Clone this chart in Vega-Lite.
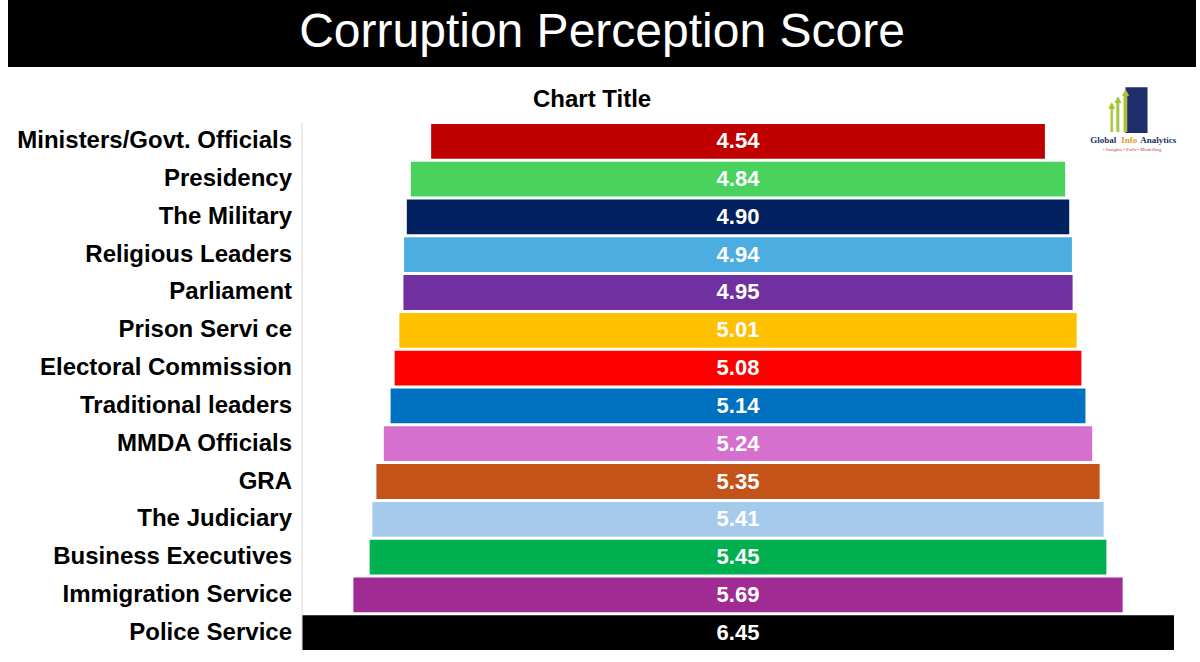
{
  "$schema": "https://vega.github.io/schema/vega-lite/v6.json",
  "background": "white",
  "padding": {"left": 8, "top": 0, "right": 0, "bottom": 0},
  "spacing": 11,
  "datasets": {
    "scores": [
      {"body": "Ministers/Govt. Officials", "score": 4.54},
      {"body": "Presidency ", "score": 4.84},
      {"body": "The Military", "score": 4.90},
      {"body": "Religious Leaders", "score": 4.94},
      {"body": "Parliament", "score": 4.95},
      {"body": "Prison Servi ce", "score": 5.01},
      {"body": "Electoral Commission ", "score": 5.08},
      {"body": "Traditional leaders", "score": 5.14},
      {"body": "MMDA Officials", "score": 5.24},
      {"body": "GRA", "score": 5.35},
      {"body": "The Judiciary", "score": 5.41},
      {"body": "Business Executives", "score": 5.45},
      {"body": "Immigration Service", "score": 5.69},
      {"body": "Police Service", "score": 6.45}
    ],
    "logo": [
      {"word": "Global", "part": "name1"},
      {"word": "Info", "part": "name2"},
      {"word": "Analytics", "part": "name3"}
    ]
  },
  "vconcat": [
    {
      "width": 1188,
      "height": 67,
      "view": {"fill": "black", "stroke": null},
      "data": {"values": [{"heading": "Corruption Perception Score"}]},
      "mark": {
        "type": "text",
        "color": "white",
        "font": "Liberation Sans",
        "fontSize": 48,
        "baseline": "middle",
        "dy": -1
      },
      "encoding": {"text": {"field": "heading"}}
    },
    {
      "width": 1166,
      "height": 530,
      "title": {
        "text": "Chart Title",
        "font": "Liberation Sans",
        "fontSize": 24,
        "fontWeight": "bold",
        "color": "black",
        "anchor": "middle",
        "frame": "bounds",
        "offset": -34
      },
      "view": {"stroke": null},
      "encoding": {
        "y": {
          "field": "body",
          "type": "nominal",
          "sort": null,
          "axis": null,
          "scale": {"paddingInner": 0.08, "paddingOuter": 0.05}
        }
      },
      "layer": [
        {
          "data": {"name": "scores"},
          "mark": {"type": "bar"},
          "encoding": {
            "x": {
              "field": "score",
              "type": "quantitative",
              "stack": "center",
              "axis": null,
              "scale": {"domain": [-2.175, 6.45], "nice": false, "zero": false}
            },
            "color": {
              "field": "body",
              "type": "nominal",
              "legend": null,
              "scale": {
                "domain": [
                  "Ministers/Govt. Officials", "Presidency ", "The Military",
                  "Religious Leaders", "Parliament", "Prison Servi ce",
                  "Electoral Commission ", "Traditional leaders", "MMDA Officials",
                  "GRA", "The Judiciary", "Business Executives",
                  "Immigration Service", "Police Service"
                ],
                "range": [
                  "#C00000", "#4AD25E", "#002060", "#4CADE0", "#7030A0",
                  "#FFC000", "#FF0000", "#0070C0", "#D670CE", "#C4531A",
                  "#A6CAEC", "#00B050", "#A02B93", "#000000"
                ]
              }
            }
          }
        },
        {
          "data": {"values": [{"edge": 0}]},
          "mark": {"type": "rule", "color": "#d9d9d9", "strokeWidth": 1},
          "encoding": {"x": {"field": "edge", "type": "quantitative"}, "y": null}
        },
        {
          "data": {"name": "scores"},
          "mark": {
            "type": "text",
            "color": "black",
            "font": "Liberation Sans",
            "fontSize": 24,
            "fontWeight": "bold",
            "align": "right",
            "baseline": "middle"
          },
          "encoding": {
            "x": {"datum": -0.074},
            "text": {"field": "body"}
          }
        },
        {
          "data": {"name": "scores"},
          "mark": {
            "type": "text",
            "color": "white",
            "font": "Liberation Sans",
            "fontSize": 22,
            "fontWeight": "bold",
            "baseline": "middle"
          },
          "encoding": {
            "x": {"datum": 3.225},
            "text": {"field": "score", "type": "quantitative", "format": ".2f"}
          }
        },
        {
          "data": {"values": [{"icon": "▮"}]},
          "mark": {
            "type": "text",
            "color": "#1F2F6B",
            "font": "DejaVu Sans",
            "fontSize": 60,
            "align": "center",
            "baseline": "middle",
            "dy": -33
          },
          "encoding": {
            "x": {"datum": 6.17},
            "y": {"datum": "Ministers/Govt. Officials"},
            "text": {"field": "icon"}
          }
        },
        {
          "data": {"values": [{"icon": "|"}]},
          "mark": {
            "type": "text",
            "color": "#A3C53A",
            "font": "Liberation Sans",
            "fontSize": 29,
            "align": "center",
            "baseline": "alphabetic",
            "dy": -15
          },
          "encoding": {
            "x": {"datum": 5.99},
            "y": {"datum": "Ministers/Govt. Officials"},
            "text": {"field": "icon"}
          }
        },
        {
          "data": {"values": [{"icon": "|"}]},
          "mark": {
            "type": "text",
            "color": "#A3C53A",
            "font": "Liberation Sans",
            "fontSize": 35,
            "align": "center",
            "baseline": "alphabetic",
            "dy": -16
          },
          "encoding": {
            "x": {"datum": 6.035},
            "y": {"datum": "Ministers/Govt. Officials"},
            "text": {"field": "icon"}
          }
        },
        {
          "data": {"values": [{"icon": "|"}]},
          "mark": {
            "type": "text",
            "color": "#A3C53A",
            "font": "Liberation Sans",
            "fontSize": 43,
            "align": "center",
            "baseline": "alphabetic",
            "dy": -18
          },
          "encoding": {
            "x": {"datum": 6.09},
            "y": {"datum": "Ministers/Govt. Officials"},
            "text": {"field": "icon"}
          }
        },
        {
          "data": {"values": [{"icon": "▲"}]},
          "mark": {
            "type": "text",
            "color": "#A3C53A",
            "font": "DejaVu Sans",
            "fontSize": 9,
            "align": "center",
            "baseline": "middle",
            "dy": -36
          },
          "encoding": {
            "x": {"datum": 5.99},
            "y": {"datum": "Ministers/Govt. Officials"},
            "text": {"field": "icon"}
          }
        },
        {
          "data": {"values": [{"icon": "▲"}]},
          "mark": {
            "type": "text",
            "color": "#A3C53A",
            "font": "DejaVu Sans",
            "fontSize": 9,
            "align": "center",
            "baseline": "middle",
            "dy": -42
          },
          "encoding": {
            "x": {"datum": 6.035},
            "y": {"datum": "Ministers/Govt. Officials"},
            "text": {"field": "icon"}
          }
        },
        {
          "data": {"values": [{"icon": "▲"}]},
          "mark": {
            "type": "text",
            "color": "#A3C53A",
            "font": "DejaVu Sans",
            "fontSize": 9,
            "align": "center",
            "baseline": "middle",
            "dy": -49
          },
          "encoding": {
            "x": {"datum": 6.09},
            "y": {"datum": "Ministers/Govt. Officials"},
            "text": {"field": "icon"}
          }
        },
        {
          "data": {"name": "logo"},
          "transform": [{"filter": "datum.part === 'name1'"}],
          "mark": {
            "type": "text",
            "color": "#1F2F6B",
            "font": "Liberation Serif",
            "fontSize": 9,
            "fontWeight": "bold",
            "align": "left",
            "baseline": "middle",
            "dy": -1
          },
          "encoding": {
            "x": {"datum": 5.83},
            "y": {"datum": "Ministers/Govt. Officials"},
            "text": {"field": "word"}
          }
        },
        {
          "data": {"name": "logo"},
          "transform": [{"filter": "datum.part === 'name2'"}],
          "mark": {
            "type": "text",
            "color": "#E39A2D",
            "font": "Liberation Serif",
            "fontSize": 9,
            "fontWeight": "bold",
            "align": "left",
            "baseline": "middle",
            "dy": -1
          },
          "encoding": {
            "x": {"datum": 6.06},
            "y": {"datum": "Ministers/Govt. Officials"},
            "text": {"field": "word"}
          }
        },
        {
          "data": {"name": "logo"},
          "transform": [{"filter": "datum.part === 'name3'"}],
          "mark": {
            "type": "text",
            "color": "#1F2F6B",
            "font": "Liberation Serif",
            "fontSize": 9,
            "fontWeight": "bold",
            "align": "left",
            "baseline": "middle",
            "dy": -1
          },
          "encoding": {
            "x": {"datum": 6.2},
            "y": {"datum": "Ministers/Govt. Officials"},
            "text": {"field": "word"}
          }
        },
        {
          "data": {"values": [{"tag": "• Insights • Polls • Modelling"}]},
          "mark": {
            "type": "text",
            "color": "#B5452F",
            "font": "Liberation Serif",
            "fontSize": 5,
            "align": "center",
            "baseline": "middle",
            "dy": 8
          },
          "encoding": {
            "x": {"datum": 6.14},
            "y": {"datum": "Ministers/Govt. Officials"},
            "text": {"field": "tag"}
          }
        }
      ]
    }
  ]
}
